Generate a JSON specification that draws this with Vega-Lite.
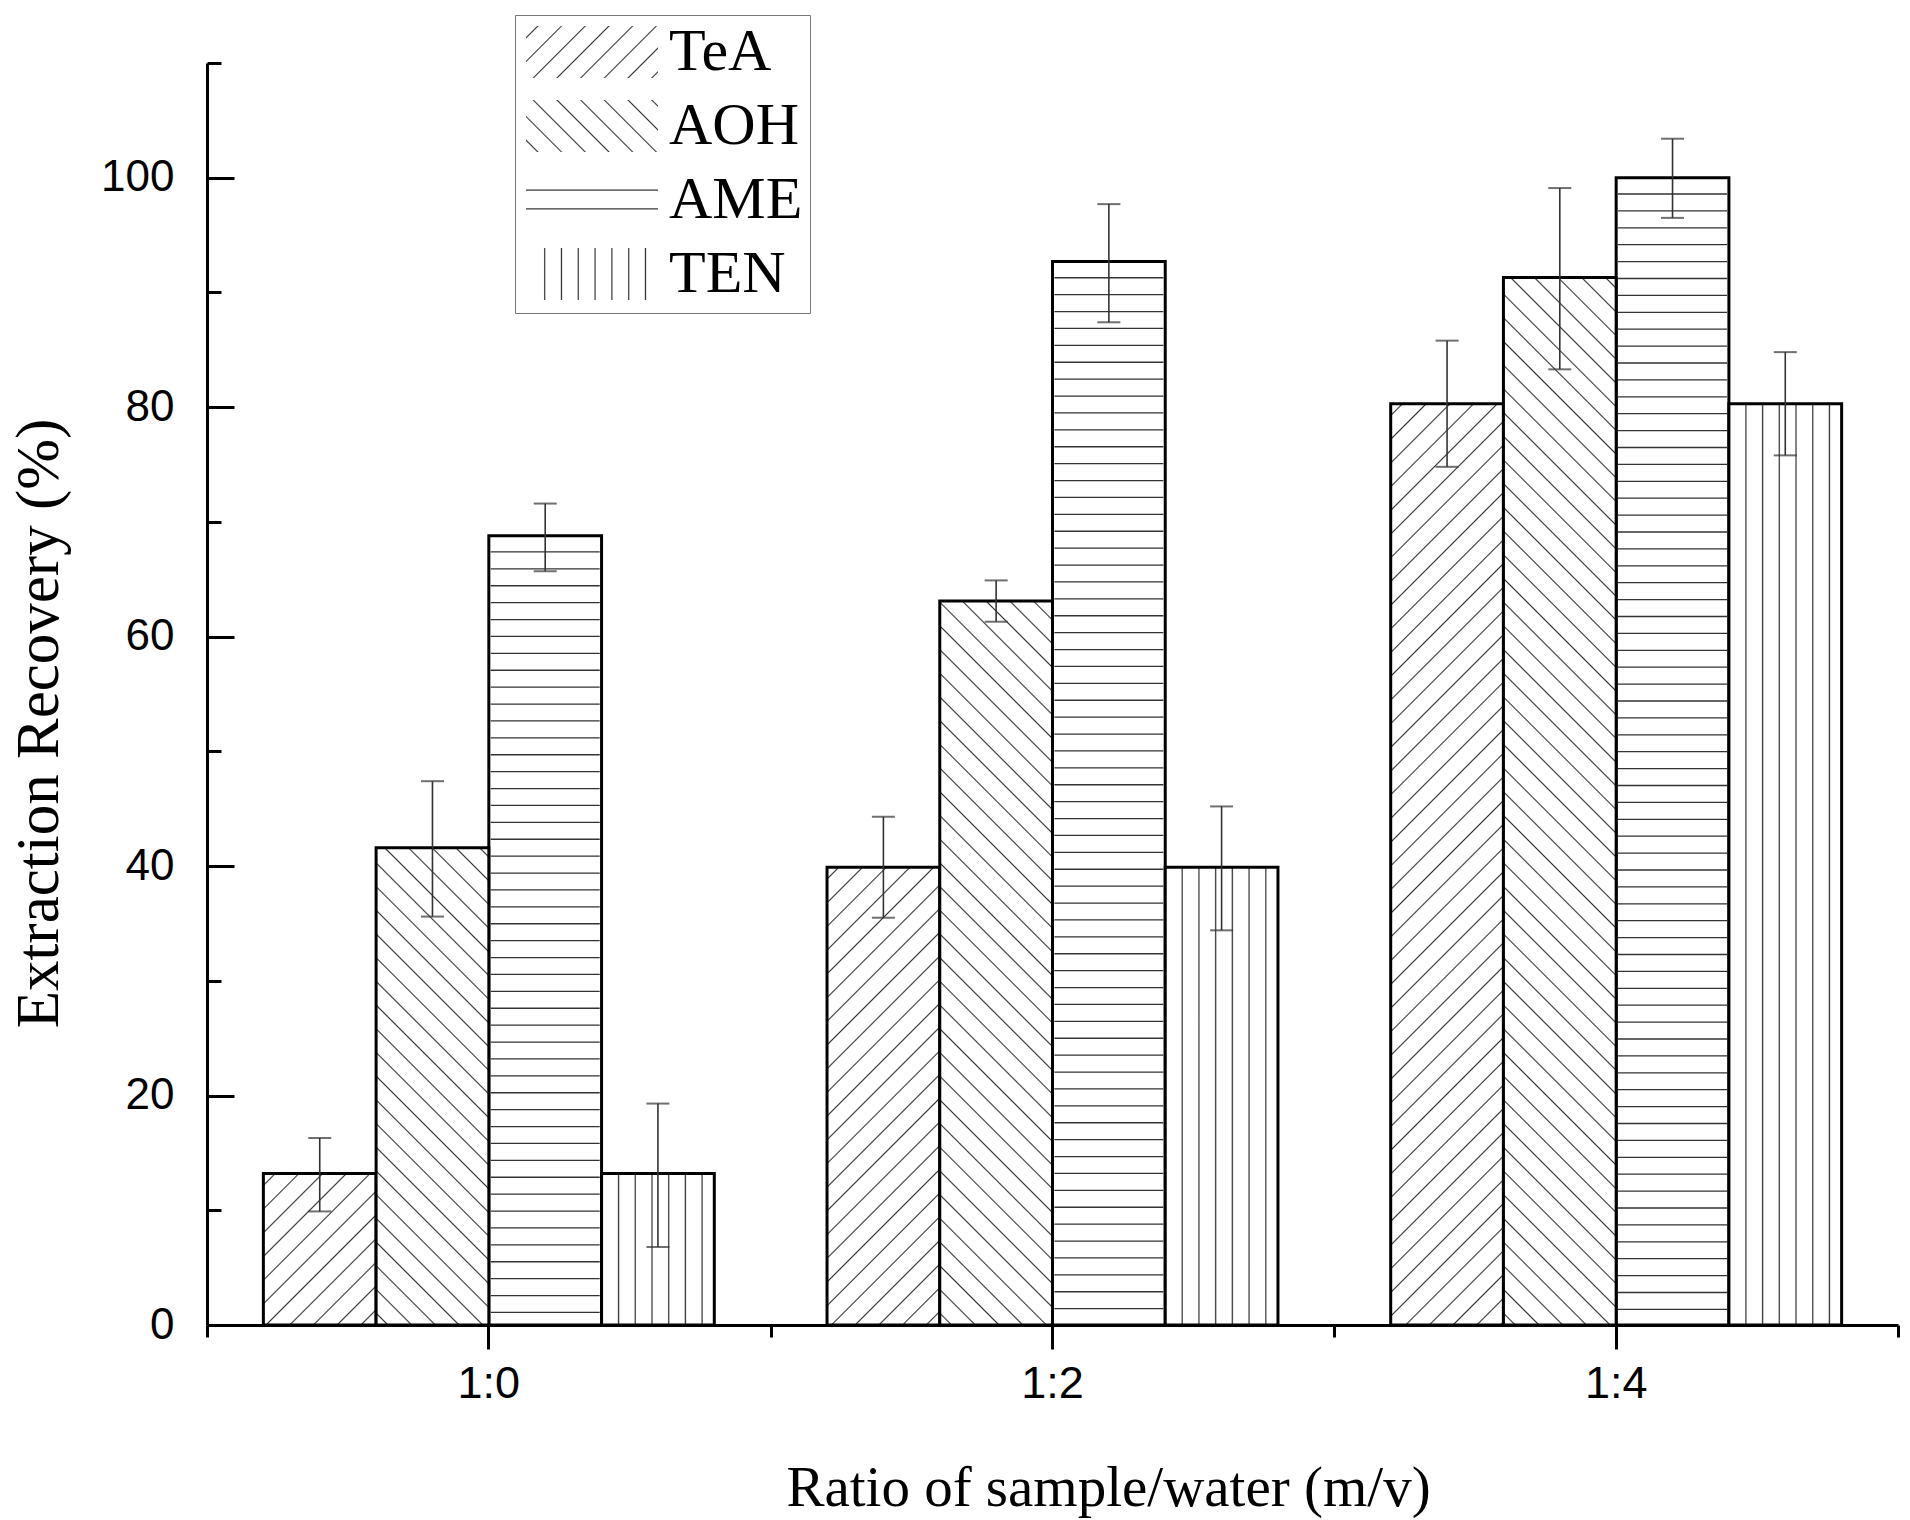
{
"$schema": "https://vega.github.io/schema/vega-lite/v6.json",
"width": 1691,
"height": 1262,
"autosize": {"type": "none"},
"padding": {"left": 207, "top": 63, "right": 12, "bottom": 195},
"background": "white",
"config": {"view": {"stroke": null}},
"params": [
{"name": "legDiag", "value": [
{"offset":0.0562,"color":"#fff"},{"offset":0.0644,"color":"#333"},{"offset":0.0726,"color":"#fff"},
{"offset":0.1850,"color":"#fff"},{"offset":0.1932,"color":"#333"},{"offset":0.2014,"color":"#fff"},
{"offset":0.3138,"color":"#fff"},{"offset":0.3220,"color":"#333"},{"offset":0.3302,"color":"#fff"},
{"offset":0.4426,"color":"#fff"},{"offset":0.4508,"color":"#333"},{"offset":0.4590,"color":"#fff"},
{"offset":0.5714,"color":"#fff"},{"offset":0.5796,"color":"#333"},{"offset":0.5878,"color":"#fff"},
{"offset":0.7002,"color":"#fff"},{"offset":0.7084,"color":"#333"},{"offset":0.7166,"color":"#fff"},
{"offset":0.8290,"color":"#fff"},{"offset":0.8372,"color":"#333"},{"offset":0.8454,"color":"#fff"},
{"offset":0.9578,"color":"#fff"},{"offset":0.9660,"color":"#333"},{"offset":0.9742,"color":"#fff"}]},
{"name": "legHor", "value": [
{"offset":0.285,"color":"#fff"},{"offset":0.31,"color":"#333"},{"offset":0.335,"color":"#fff"},
{"offset":0.645,"color":"#fff"},{"offset":0.67,"color":"#333"},{"offset":0.695,"color":"#fff"}]},
{"name": "legVer", "value": [
{"offset":0.1324,"color":"#fff"},{"offset":0.1414,"color":"#333"},{"offset":0.1504,"color":"#fff"},
{"offset":0.2597,"color":"#fff"},{"offset":0.2687,"color":"#333"},{"offset":0.2777,"color":"#fff"},
{"offset":0.3870,"color":"#fff"},{"offset":0.3960,"color":"#333"},{"offset":0.4050,"color":"#fff"},
{"offset":0.5143,"color":"#fff"},{"offset":0.5233,"color":"#333"},{"offset":0.5323,"color":"#fff"},
{"offset":0.6416,"color":"#fff"},{"offset":0.6506,"color":"#333"},{"offset":0.6596,"color":"#fff"},
{"offset":0.7689,"color":"#fff"},{"offset":0.7779,"color":"#333"},{"offset":0.7869,"color":"#fff"},
{"offset":0.8962,"color":"#fff"},{"offset":0.9052,"color":"#333"},{"offset":0.9142,"color":"#fff"}]},
{"name": "diag", "value": [
{"offset":0.0087,"color":"#fff"},{"offset":0.01,"color":"#333"},{"offset":0.0113,"color":"#fff"},
{"offset":0.0287,"color":"#fff"},{"offset":0.03,"color":"#333"},{"offset":0.0313,"color":"#fff"},
{"offset":0.0487,"color":"#fff"},{"offset":0.05,"color":"#333"},{"offset":0.0513,"color":"#fff"},
{"offset":0.0687,"color":"#fff"},{"offset":0.07,"color":"#333"},{"offset":0.0713,"color":"#fff"},
{"offset":0.0887,"color":"#fff"},{"offset":0.09,"color":"#333"},{"offset":0.0913,"color":"#fff"},
{"offset":0.1087,"color":"#fff"},{"offset":0.11,"color":"#333"},{"offset":0.1113,"color":"#fff"},
{"offset":0.1287,"color":"#fff"},{"offset":0.13,"color":"#333"},{"offset":0.1313,"color":"#fff"},
{"offset":0.1487,"color":"#fff"},{"offset":0.15,"color":"#333"},{"offset":0.1513,"color":"#fff"},
{"offset":0.1687,"color":"#fff"},{"offset":0.17,"color":"#333"},{"offset":0.1713,"color":"#fff"},
{"offset":0.1887,"color":"#fff"},{"offset":0.19,"color":"#333"},{"offset":0.1913,"color":"#fff"},
{"offset":0.2087,"color":"#fff"},{"offset":0.21,"color":"#333"},{"offset":0.2113,"color":"#fff"},
{"offset":0.2287,"color":"#fff"},{"offset":0.23,"color":"#333"},{"offset":0.2313,"color":"#fff"},
{"offset":0.2487,"color":"#fff"},{"offset":0.25,"color":"#333"},{"offset":0.2513,"color":"#fff"},
{"offset":0.2687,"color":"#fff"},{"offset":0.27,"color":"#333"},{"offset":0.2713,"color":"#fff"},
{"offset":0.2887,"color":"#fff"},{"offset":0.29,"color":"#333"},{"offset":0.2913,"color":"#fff"},
{"offset":0.3087,"color":"#fff"},{"offset":0.31,"color":"#333"},{"offset":0.3113,"color":"#fff"},
{"offset":0.3287,"color":"#fff"},{"offset":0.33,"color":"#333"},{"offset":0.3313,"color":"#fff"},
{"offset":0.3487,"color":"#fff"},{"offset":0.35,"color":"#333"},{"offset":0.3513,"color":"#fff"},
{"offset":0.3687,"color":"#fff"},{"offset":0.37,"color":"#333"},{"offset":0.3713,"color":"#fff"},
{"offset":0.3887,"color":"#fff"},{"offset":0.39,"color":"#333"},{"offset":0.3913,"color":"#fff"},
{"offset":0.4087,"color":"#fff"},{"offset":0.41,"color":"#333"},{"offset":0.4113,"color":"#fff"},
{"offset":0.4287,"color":"#fff"},{"offset":0.43,"color":"#333"},{"offset":0.4313,"color":"#fff"},
{"offset":0.4487,"color":"#fff"},{"offset":0.45,"color":"#333"},{"offset":0.4513,"color":"#fff"},
{"offset":0.4687,"color":"#fff"},{"offset":0.47,"color":"#333"},{"offset":0.4713,"color":"#fff"},
{"offset":0.4887,"color":"#fff"},{"offset":0.49,"color":"#333"},{"offset":0.4913,"color":"#fff"},
{"offset":0.5087,"color":"#fff"},{"offset":0.51,"color":"#333"},{"offset":0.5113,"color":"#fff"},
{"offset":0.5287,"color":"#fff"},{"offset":0.53,"color":"#333"},{"offset":0.5313,"color":"#fff"},
{"offset":0.5487,"color":"#fff"},{"offset":0.55,"color":"#333"},{"offset":0.5513,"color":"#fff"},
{"offset":0.5687,"color":"#fff"},{"offset":0.57,"color":"#333"},{"offset":0.5713,"color":"#fff"},
{"offset":0.5887,"color":"#fff"},{"offset":0.59,"color":"#333"},{"offset":0.5913,"color":"#fff"},
{"offset":0.6087,"color":"#fff"},{"offset":0.61,"color":"#333"},{"offset":0.6113,"color":"#fff"},
{"offset":0.6287,"color":"#fff"},{"offset":0.63,"color":"#333"},{"offset":0.6313,"color":"#fff"},
{"offset":0.6487,"color":"#fff"},{"offset":0.65,"color":"#333"},{"offset":0.6513,"color":"#fff"},
{"offset":0.6687,"color":"#fff"},{"offset":0.67,"color":"#333"},{"offset":0.6713,"color":"#fff"},
{"offset":0.6887,"color":"#fff"},{"offset":0.69,"color":"#333"},{"offset":0.6913,"color":"#fff"},
{"offset":0.7087,"color":"#fff"},{"offset":0.71,"color":"#333"},{"offset":0.7113,"color":"#fff"},
{"offset":0.7287,"color":"#fff"},{"offset":0.73,"color":"#333"},{"offset":0.7313,"color":"#fff"},
{"offset":0.7487,"color":"#fff"},{"offset":0.75,"color":"#333"},{"offset":0.7513,"color":"#fff"},
{"offset":0.7687,"color":"#fff"},{"offset":0.77,"color":"#333"},{"offset":0.7713,"color":"#fff"},
{"offset":0.7887,"color":"#fff"},{"offset":0.79,"color":"#333"},{"offset":0.7913,"color":"#fff"},
{"offset":0.8087,"color":"#fff"},{"offset":0.81,"color":"#333"},{"offset":0.8113,"color":"#fff"},
{"offset":0.8287,"color":"#fff"},{"offset":0.83,"color":"#333"},{"offset":0.8313,"color":"#fff"},
{"offset":0.8487,"color":"#fff"},{"offset":0.85,"color":"#333"},{"offset":0.8513,"color":"#fff"},
{"offset":0.8687,"color":"#fff"},{"offset":0.87,"color":"#333"},{"offset":0.8713,"color":"#fff"},
{"offset":0.8887,"color":"#fff"},{"offset":0.89,"color":"#333"},{"offset":0.8913,"color":"#fff"},
{"offset":0.9087,"color":"#fff"},{"offset":0.91,"color":"#333"},{"offset":0.9113,"color":"#fff"},
{"offset":0.9287,"color":"#fff"},{"offset":0.93,"color":"#333"},{"offset":0.9313,"color":"#fff"},
{"offset":0.9487,"color":"#fff"},{"offset":0.95,"color":"#333"},{"offset":0.9513,"color":"#fff"},
{"offset":0.9687,"color":"#fff"},{"offset":0.97,"color":"#333"},{"offset":0.9713,"color":"#fff"},
{"offset":0.9887,"color":"#fff"},{"offset":0.99,"color":"#333"},{"offset":0.9913,"color":"#fff"}
]}],
"data": {"values": [
{"ratio":"1:0","series":"TeA","value":13.2,"lo":9.9,"hi":16.3},
{"ratio":"1:0","series":"AOH","value":41.6,"lo":35.6,"hi":47.4},
{"ratio":"1:0","series":"AME","value":68.8,"lo":65.7,"hi":71.6},
{"ratio":"1:0","series":"TEN","value":13.2,"lo":6.8,"hi":19.3},
{"ratio":"1:2","series":"TeA","value":39.9,"lo":35.5,"hi":44.3},
{"ratio":"1:2","series":"AOH","value":63.1,"lo":61.3,"hi":64.9},
{"ratio":"1:2","series":"AME","value":92.7,"lo":87.4,"hi":97.7},
{"ratio":"1:2","series":"TEN","value":39.9,"lo":34.4,"hi":45.2},
{"ratio":"1:4","series":"TeA","value":80.3,"lo":74.8,"hi":85.8},
{"ratio":"1:4","series":"AOH","value":91.3,"lo":83.3,"hi":99.1},
{"ratio":"1:4","series":"AME","value":100.0,"lo":96.5,"hi":103.4},
{"ratio":"1:4","series":"TEN","value":80.3,"lo":75.8,"hi":84.8}
]},
"encoding": {
  "x": {"field":"ratio","type":"nominal","sort":["1:0","1:2","1:4"],"scale":{"paddingInner":0,"paddingOuter":0},"axis":null},
  "xOffset": {"field":"series","type":"nominal","sort":["TeA","AOH","AME","TEN"],"scale":{"paddingInner":0,"paddingOuter":0.5}},
  "y": {"field":"value","type":"quantitative","scale":{"domain":[0,110],"nice":false},"title":"Extraction Recovery (%)","axis":null}
},
"layer": [
  {"transform":[{"filter":"datum.series === 'AME'"}],
   "mark":{"type":"bar","stroke":"black","strokeWidth":3,"fill":"white"},
   "encoding":{
     "x":{"field":"ratio","type":"nominal","sort":["1:0","1:2","1:4"],"scale":{"paddingInner":0,"paddingOuter":0},
       "axis":{"orient":"bottom","title":"Ratio of sample/water (m/v)","titleFont":"Liberation Serif","titleFontSize":57,"titleFontWeight":"normal","titleColor":"black",
         "titleX":901,"titleY":180,"titleAlign":"center","titleBaseline":"alphabetic",
         "labelFont":"Liberation Sans","labelFontSize":45,"labelColor":"black","labelPadding":12,"labelAngle":0,
         "tickSize":24,"tickWidth":3,"tickColor":"black","domainColor":"black","domainWidth":3,"grid":false}},
     "y":{"field":"value","type":"quantitative","scale":{"domain":[0,110],"nice":false},"title":"Extraction Recovery (%)",
       "axis":{"orient":"left","values":[0,20,40,60,80,100],"tickSize":-27,
         "tickWidth":3,"tickColor":"black","domainColor":"black","domainWidth":3,"grid":false,
         "labelFont":"Liberation Sans","labelFontSize":44,"labelColor":"black","labelPadding":60,"labelOverlap":false,
         "titleFont":"Liberation Serif","titleFontSize":61,"titleFontWeight":"normal","titleColor":"black",
         "titleAngle":270,"titleX":-150,"titleY":660,"titleAlign":"center","titleBaseline":"alphabetic"}}
   }},
  {"transform":[{"filter":"datum.series === 'TeA'"}],
   "mark":{"type":"bar","stroke":"black","strokeWidth":3,
     "fill":{"expr":"{gradient:'linear',x1:0,y1:0,x2:1185*112.7/(12701+pow(datum.value*11.4727,2)),y2:1185*datum.value*11.4727/(12701+pow(datum.value*11.4727,2)),stops:diag}"}},
   "encoding":{
     "x":{"field":"ratio","type":"nominal","sort":["1:0","1:2","1:4"],"scale":{"paddingInner":0,"paddingOuter":0},
       "axis":{"orient":"bottom","tickBand":"extent","labels":false,"domain":false,"tickSize":12,"tickWidth":3,"tickColor":"black","title":null,"grid":false}},
     "y":{"field":"value","type":"quantitative","scale":{"domain":[0,110],"nice":false},"title":null,
       "axis":{"orient":"left","values":[10,30,50,70,90,110],"tickSize":-14,"labels":false,"domain":false,"tickWidth":3,"tickColor":"black","title":null,"grid":false}}
   }},
  {"transform":[{"filter":"datum.series === 'AOH'"}],
   "mark":{"type":"bar","stroke":"black","strokeWidth":3,
     "fill":{"expr":"{gradient:'linear',x1:0,y1:1,x2:1185*112.7/(12701+pow(datum.value*11.4727,2)),y2:1-1185*datum.value*11.4727/(12701+pow(datum.value*11.4727,2)),stops:diag}"}}},
  {"transform":[{"filter":"datum.series === 'TEN'"}],
   "mark":{"type":"bar","stroke":"black","strokeWidth":3,
     "fill":{"gradient":"linear","x1":0,"y1":0,"x2":1,"y2":0,"stops":[
       {"offset":0.1398,"color":"#fff"},{"offset":0.1508,"color":"#333"},{"offset":0.1618,"color":"#fff"},
       {"offset":0.2880,"color":"#fff"},{"offset":0.2990,"color":"#333"},{"offset":0.3100,"color":"#fff"},
       {"offset":0.4362,"color":"#fff"},{"offset":0.4472,"color":"#333"},{"offset":0.4582,"color":"#fff"},
       {"offset":0.5844,"color":"#fff"},{"offset":0.5954,"color":"#333"},{"offset":0.6064,"color":"#fff"},
       {"offset":0.7326,"color":"#fff"},{"offset":0.7436,"color":"#333"},{"offset":0.7546,"color":"#fff"},
       {"offset":0.8808,"color":"#fff"},{"offset":0.8918,"color":"#333"},{"offset":0.9028,"color":"#fff"}]}}},
  {"transform":[{"filter":"datum.series === 'AME'"}],
   "mark":{"type":"rule","strokeWidth":109,"strokeDash":[1.3,15.6],"strokeDashOffset":1.3,"strokeCap":"butt","color":"#333"},
   "encoding":{"y2":{"datum":0}}},
  {"mark":{"type":"rule","color":"#333","strokeWidth":1.6},
   "encoding":{
     "y":{"field":"lo","type":"quantitative","scale":{"domain":[0,110],"nice":false},"title":null,"axis":null},
     "y2":{"field":"hi"}}},
  {"mark":{"type":"tick","color":"#333","size":23,"thickness":2},
   "encoding":{
     "y":{"field":"lo","type":"quantitative","scale":{"domain":[0,110],"nice":false},"title":null,"axis":null}}},
  {"mark":{"type":"tick","color":"#333","size":23,"thickness":2},
   "encoding":{
     "y":{"field":"hi","type":"quantitative","scale":{"domain":[0,110],"nice":false},"title":null,"axis":null}}},
  {"mark":{"type":"point","filled":true,"opacity":0,"stroke":"black","strokeWidth":3,
     "fill":{"expr":"datum.value === 'TeA' ? {gradient:'linear',x1:0,y1:0,x2:1.2067,y2:0.4754,stops:legDiag} : datum.value === 'AOH' ? {gradient:'linear',x1:0,y1:1,x2:1.2067,y2:0.5246,stops:legDiag} : datum.value === 'AME' ? {gradient:'linear',x1:0,y1:0,x2:0,y2:1,stops:legHor} : {gradient:'linear',x1:0,y1:0,x2:1,y2:0,stops:legVer}"}},
   "encoding":{
     "stroke":{"value":"black"},
     "strokeWidth":{"value":3},
     "shape":{"field":"series","type":"nominal","sort":["TeA","AOH","AME","TEN"],
       "scale":{"domain":["TeA","AOH","AME","TEN"],"range":["M-1,-1H4.077V1H-1Z","M-1,-1H4.077V1H-1Z","M-1,-1H4.077V1H-1Z","M-1,-1H4.077V1H-1Z"]},
       "legend":{"orient":"none","legendX":308,"legendY":-48,"title":null,
         "symbolSize":2704,"symbolStrokeColor":"black","symbolStrokeWidth":3,"symbolOpacity":1,
         "labelFont":"Liberation Serif","labelFontSize":60,"labelColor":"black","labelOffset":87,
         "rowPadding":10,"padding":7,"strokeColor":"#777","fillColor":"white",
         "encode":{"legend":{"update":{"strokeWidth":{"value":2}}}}}}
   }}
],
"resolve": {"axis": {"x": "independent", "y": "independent"}}
}
